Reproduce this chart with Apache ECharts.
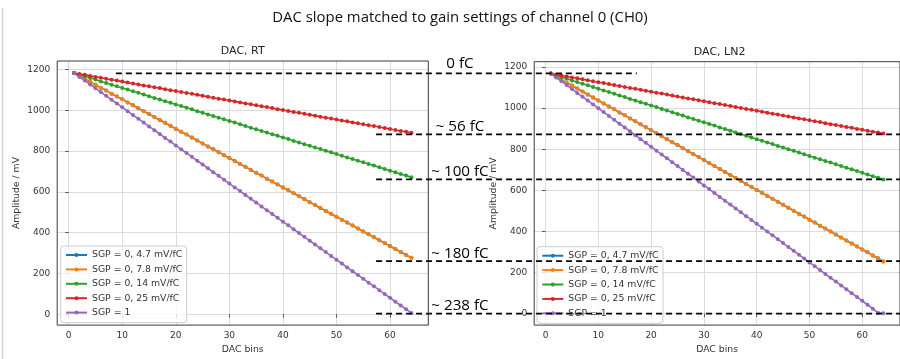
<!DOCTYPE html>
<html>
<head>
<meta charset="utf-8">
<title>DAC slope matched to gain settings of channel 0 (CH0)</title>
<script src="https://cdn.jsdelivr.net/npm/echarts@6/dist/echarts.min.js"></script>
<style>
  html, body { margin: 0; padding: 0; background: #ffffff; }
  #chart { width: 900px; height: 359px; }
</style>
</head>
<body>
<div id="chart"></div>
<script>
// ---- data -------------------------------------------------------------
const dacBins = [1,2,3,4,5,6,7,8,9,10,11,12,13,14,15,16,17,18,19,20,21,22,23,24,25,26,27,28,29,30,31,32,
  33,34,35,36,37,38,39,40,41,42,43,44,45,46,47,48,49,50,51,52,53,54,55,56,57,58,59,60,61,62,63,64];

const seriesNames = ['SGP = 0, 4.7 mV/fC', 'SGP = 0, 7.8 mV/fC', 'SGP = 0, 14 mV/fC', 'SGP = 0, 25 mV/fC', 'SGP = 1'];

// Room temperature (mV)
const rtGain78 = [1183,1169,1154,1140,1125,1111,1097,1082,1068,1054,1039,1025,1010,996,982,967,953,939,924,910,
  895,881,867,852,838,823,809,795,780,766,752,737,723,708,694,680,665,651,637,622,
  608,593,579,565,550,536,521,507,493,478,464,450,435,421,406,392,378,363,349,335,320,306,291,277];
// the 4.7 mV/fC trace lies exactly under the 7.8 mV/fC one
const rtGain47 = rtGain78;
const rtGain14 = [1183,1175,1167,1159,1151,1142,1134,1126,1118,1110,1102,1094,1086,1078,1069,1061,1053,1045,1037,1029,
  1021,1013,1005,996,988,980,972,964,956,948,940,932,923,915,907,899,891,883,875,867,
  859,850,842,834,826,818,810,802,794,786,777,769,761,753,745,737,729,721,713,704,696,688,680,672];
const rtGain25 = [1183,1178,1174,1169,1164,1160,1155,1150,1146,1141,1136,1132,1127,1122,1118,1113,1109,1104,1099,1095,
  1090,1085,1081,1076,1071,1067,1062,1057,1053,1048,1044,1039,1034,1030,1025,1020,1016,1011,1006,1002,
  997,992,988,983,978,974,969,964,960,955,950,946,941,937,932,927,923,918,913,909,904,899,895,890];
const rtSgp1 = [1183,1164,1146,1127,1108,1090,1071,1052,1034,1015,996,977,959,940,921,903,884,865,847,828,
  809,791,772,753,735,716,697,679,660,641,622,604,585,566,548,529,510,492,473,454,
  436,417,398,380,361,342,324,305,286,268,249,230,211,193,174,155,137,118,99,81,62,43,25,6];

// Liquid nitrogen (mV)
const ln2Gain78 = [1168,1153,1139,1124,1110,1095,1081,1066,1052,1037,1023,1008,994,979,965,950,936,921,907,892,
  878,863,849,834,820,805,791,776,762,747,733,718,704,689,675,660,646,631,617,602,
  588,573,559,544,530,515,501,486,472,457,443,428,414,399,385,370,356,341,327,312,298,283,269,254];
const ln2Gain47 = ln2Gain78;
const ln2Gain14 = [1168,1160,1152,1143,1135,1127,1119,1111,1103,1094,1086,1078,1070,1062,1054,1045,1037,1029,1021,1013,
  1005,996,988,980,972,964,955,947,939,931,923,915,906,898,890,882,874,866,857,849,
  841,833,825,816,808,800,792,784,776,767,759,751,743,735,727,718,710,702,694,686,677,669,661,653];
const ln2Gain25 = [1168,1163,1159,1154,1149,1145,1140,1136,1131,1126,1122,1117,1112,1108,1103,1098,1094,1089,1085,1080,
  1075,1071,1066,1061,1057,1052,1047,1043,1038,1034,1029,1024,1020,1015,1010,1006,1001,996,992,987,
  983,978,973,969,964,959,955,950,946,941,936,932,927,922,918,913,908,904,899,895,890,885,881,876];
const ln2Sgp1 = [1168,1149,1131,1112,1093,1074,1056,1037,1018,999,981,962,943,924,906,887,868,849,831,812,
  793,774,756,737,718,699,681,662,643,624,606,587,568,549,531,512,493,474,456,437,
  418,399,381,362,343,324,306,287,268,249,231,212,193,174,156,137,118,99,81,62,43,24,3,2];

// Axis ticks
const xTicks = [0, 10, 20, 30, 40, 50, 60];
const yTicks = [0, 200, 400, 600, 800, 1000, 1200];

// Charge guides (mV on the LN2 axis) with the DAC-bin span they cover
const chargeLabels = ['0 fC', '~ 56 fC', '~ 100 fC', '~ 180 fC', '~ 238 fC'];
const chargeLevels = [1169, 872, 653, 255, 0];
const guideFromRT = [8.8, 57.4, 57.4, 57.4, 57.4];
const guideToLN2 = [17.3, 67.15, 67.15, 67.15, 67.15];

// ---- styling ----------------------------------------------------------
const palette = ['#1f77b4', '#ff7f0e', '#2ca02c', '#d62728', '#9467bd'];
const plotFont = 'DejaVu Sans';
const slideFont = 'Open Sans';
const inkColor = '#333333';

const grids = [
  { left: 57.2, top: 61, width: 371.1, height: 266 },
  { left: 534.2, top: 61.7, width: 370.8, height: 265.6 }
];
const xRange = [-2.15, 67.15];
const yRanges = [[-53, 1242], [-56, 1226]];
const panelTitles = ['DAC, RT', 'DAC, LN2'];
const legendBoxes = [{ left: 60.7, top: 246 }, { left: 537, top: 246.7 }];
const guideLabelOffsets = [-2, 0, 0, 0, 0];

const panels = [
  [rtGain47, rtGain78, rtGain14, rtGain25, rtSgp1],
  [ln2Gain47, ln2Gain78, ln2Gain14, ln2Gain25, ln2Sgp1]
];

function pairs(values) {
  return dacBins.map((x, i) => [x, values[i]]);
}

const plainNumber = v => String(v);

const series = [];
panels.forEach((panel, p) => {
  panel.forEach((values, s) => {
    series.push({
      type: 'line',
      name: seriesNames[s],
      xAxisIndex: p,
      yAxisIndex: p,
      data: pairs(values),
      color: palette[s],
      symbol: 'circle',
      symbolSize: 4,
      showSymbol: true,
      lineStyle: { width: 1.6 },
      emphasis: { disabled: true },
      animation: false,
      z: 2
    });
  });
});

const xAxes = grids.map((g, p) => ({
  type: 'value',
  gridIndex: p,
  min: xRange[0],
  max: xRange[1],
  splitNumber: 7,
  name: 'DAC bins',
  nameLocation: 'middle',
  nameGap: 18,
  nameTextStyle: { fontFamily: plotFont, fontSize: 9.3, color: inkColor },
  axisLine: { show: false },
  axisTick: { show: true, length: 3.5, customValues: xTicks, lineStyle: { color: inkColor, width: 0.8 } },
  axisLabel: { customValues: xTicks, formatter: plainNumber, margin: 6, fontFamily: plotFont, fontSize: 9, color: inkColor },
  splitLine: { show: true, lineStyle: { color: '#d2d2d2', width: 0.8 } }
}));

const yAxes = grids.map((g, p) => ({
  type: 'value',
  gridIndex: p,
  min: yRanges[p][0],
  max: yRanges[p][1],
  splitNumber: 6,
  name: 'Amplitude / mV',
  nameLocation: 'middle',
  nameGap: 36,
  nameTextStyle: { fontFamily: plotFont, fontSize: 9.3, color: inkColor },
  axisLine: { show: false },
  axisTick: { show: true, length: 3.5, customValues: yTicks, lineStyle: { color: inkColor, width: 0.8 } },
  axisLabel: { customValues: yTicks, formatter: plainNumber, margin: 7, fontFamily: plotFont, fontSize: 9, color: inkColor },
  splitLine: { show: true, lineStyle: { color: '#d2d2d2', width: 0.8 } }
}));

const legends = legendBoxes.map(b => ({
  data: seriesNames,
  orient: 'vertical',
  left: b.left,
  top: b.top,
  itemWidth: 21,
  itemHeight: 5,
  itemGap: 4.4,
  padding: [4, 4.4, 5, 4.3],
  backgroundColor: 'rgba(255,255,255,0.8)',
  borderColor: '#cccccc',
  borderWidth: 1,
  borderRadius: 3,
  selectedMode: false,
  textStyle: { fontFamily: plotFont, fontSize: 9.3, lineHeight: 10, color: inkColor }
}));

const chart = echarts.init(document.getElementById('chart'), null, { renderer: 'canvas' });

chart.setOption({
  animation: false,
  backgroundColor: '#ffffff',
  grid: grids.map(g => Object.assign({
    show: true, borderColor: '#3a3a3a', borderWidth: 1, backgroundColor: 'transparent', z: 3
  }, g)),
  xAxis: xAxes,
  yAxis: yAxes,
  legend: legends,
  series: series
});

// ---- slide decorations: headline, panel titles, charge guides ---------
const graphics = [];

graphics.push({
  type: 'line', silent: true, z: 50,
  shape: { x1: 2.5, y1: 8, x2: 2.5, y2: 359 },
  style: { stroke: '#d4d4d4', lineWidth: 1.5 }
});

graphics.push({
  type: 'text', silent: true, z: 50,
  x: 460, y: 18,
  style: {
    text: 'DAC slope matched to gain settings of channel 0 (CH0)',
    font: '14.9px "' + slideFont + '"', fill: '#111111',
    textAlign: 'center', textVerticalAlign: 'middle'
  }
});

grids.forEach((g, p) => {
  graphics.push({
    type: 'text', silent: true, z: 50,
    x: g.left + g.width / 2, y: g.top - 10,
    style: {
      text: panelTitles[p], font: '11px "' + plotFont + '"', fill: '#222222',
      textAlign: 'center', textVerticalAlign: 'middle'
    }
  });
});

chargeLevels.forEach((level, k) => {
  const y = chart.convertToPixel({ yAxisIndex: 1 }, level);
  const x0 = chart.convertToPixel({ xAxisIndex: 0 }, guideFromRT[k]);
  const x1 = chart.convertToPixel({ xAxisIndex: 1 }, guideToLN2[k]);
  graphics.push({
    type: 'line', silent: true, z: 60,
    shape: { x1: x0, y1: y, x2: x1, y2: y },
    style: { stroke: '#000000', lineWidth: 1.7, lineDash: [6, 4] }
  });
  graphics.push({
    type: 'text', silent: true, z: 61,
    x: 460, y: y + guideLabelOffsets[k],
    style: {
      text: chargeLabels[k], font: '15.2px "' + slideFont + '"', fill: '#000000',
      textAlign: 'center', textVerticalAlign: 'bottom'
    }
  });
});

chart.setOption({ graphic: graphics });
</script>
</body>
</html>
